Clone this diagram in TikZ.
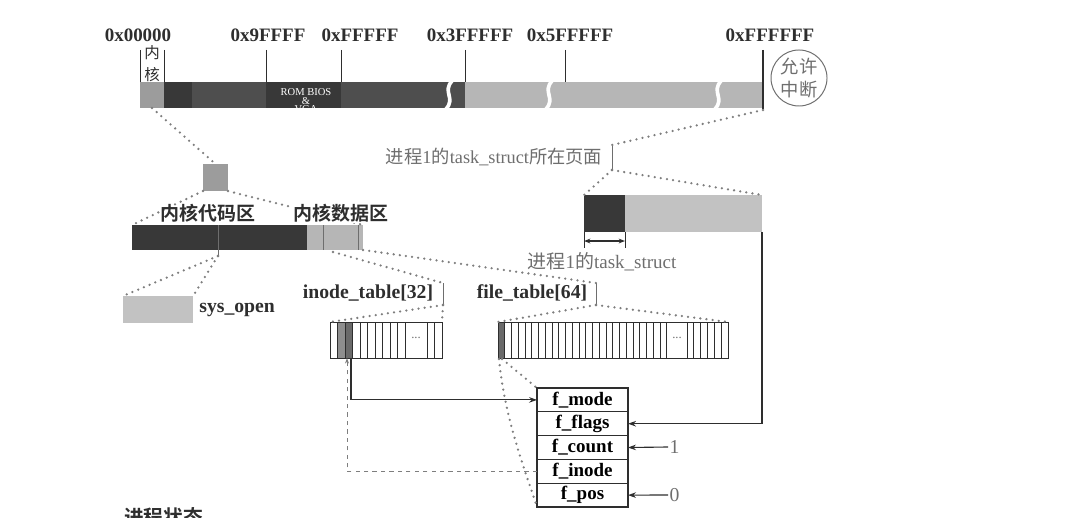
\documentclass[tikz,border=0pt]{standalone}
\usepackage{fontspec}
\setmainfont{Liberation Serif}
\newfontfamily\cjk{Noto Sans CJK SC}[BoldFont={Noto Sans CJK SC Bold}]
\usetikzlibrary{arrows.meta,positioning}
\definecolor{Ink}{HTML}{2E2E2E}
\definecolor{Soft}{HTML}{6E6E6E}
\definecolor{DotGray}{HTML}{7E7E7E}
\definecolor{BarDark}{HTML}{383838}
\definecolor{BarHatch}{HTML}{4E4E4E}
\definecolor{BarMid}{HTML}{9C9C9C}
\definecolor{BarLight}{HTML}{B6B6B6}
\definecolor{PaleFill}{HTML}{C2C2C2}
\definecolor{CellMid}{HTML}{8E8E8E}
\definecolor{CellDark}{HTML}{6A6A6A}
\tikzset{
  seg/.style={inner sep=0,outer sep=0,anchor=north west,minimum height=.65cm},
  tick/.style={draw=Ink,line width=.6pt},
  hexlbl/.style={font=\fontsize{13.5}{16}\selectfont\bfseries,text=Ink},
  boldlbl/.style={font=\fontsize{14}{16}\selectfont\bfseries,text=Ink},
  graylbl/.style={font=\fontsize{13}{15}\selectfont,text=Soft},
  dots/.style={draw=DotGray,line width=1.8pt,line cap=round,dash pattern=on 0pt off 4.4pt},
  cell/.style={draw=Ink,line width=.65pt},
  field/.style={draw=Ink,line width=.8pt,minimum width=2.275cm,minimum height=.595cm,inner sep=0,outer sep=0,font=\fontsize{13.5}{15}\selectfont\bfseries},
  link/.style={draw=Ink,line width=.8pt,-{Stealth[length=2mm,width=1.4mm]}},
  dashlink/.style={draw=DotGray,line width=.7pt,dashed,-{Stealth[length=1.4mm,width=1mm,open]}},
  gap/.style={draw=white,line width=2.6pt}
}
\begin{document}
\begin{tikzpicture}[x=.025cm,y=-.025cm]
  \useasboundingbox (0,0) rectangle (1078,518);
  \node[seg,fill=BarMid,minimum width=.6cm] (kern) at (140,82) {};
  \node[seg,fill=BarDark,minimum width=.7cm] (low) at (164,82) {};
  \node[seg,fill=BarHatch,minimum width=1.85cm] (conv) at (192,82) {};
  \node[seg,fill=BarDark,minimum width=1.875cm] (rom) at (266,82) {};
  \node[seg,fill=BarHatch,minimum width=3.1cm] (ext) at (341,82) {};
  \node[seg,fill=BarLight,minimum width=7.45cm] (high) at (465,82) {};
  \begin{scope}
    \clip (rom.north west) rectangle (rom.south east);
    \node[text=white,align=center,font=\fontsize{7.5}{6}\selectfont] (romtxt) at (306,101) {ROM BIOS\\\&\\VGA};
  \end{scope}
  \foreach \x in {449,549,718}
    \draw[gap] (\x+3,81) .. controls (\x-7,92) and (\x+7,98) .. (\x-3,109);
  \foreach \x in {140,164,266,341,465,565}
    \draw[tick] (\x,50) -- (\x,82);
  \draw[tick,line width=1pt] (763,50) -- (763,109);
  \node[hexlbl] (h0) at (138,35) {0x00000};
  \node[hexlbl] (h1) at (268,35) {0x9FFFF};
  \node[hexlbl] (h2) at (360,35) {0xFFFFF};
  \node[hexlbl] (h3) at (470,35) {0x3FFFFF};
  \node[hexlbl] (h4) at (570,35) {0x5FFFFF};
  \node[hexlbl] (h5) at (770,35) {0xFFFFFF};
  \node[align=center,text=Ink,inner sep=0,font=\fontsize{11}{15.5}\selectfont\cjk] (kernlbl) at (152,64) {内\\核};
  \node[circle,draw=Soft,line width=.7pt,minimum size=1.4cm,inner sep=0,align=center,text=Soft,font=\fontsize{13}{17}\selectfont\cjk] (irq) at (799,78) {允许\\中断};

  \node[seg,fill=BarMid,minimum width=.625cm,minimum height=.675cm] (sq) at (203,164) {};
  \node[seg,fill=BarDark,minimum width=4.375cm,minimum height=.625cm] (kcode) at (132,225) {};
  \node[seg,fill=BarLight,minimum width=1.4cm,minimum height=.625cm] (kdata) at (307,225) {};
  \foreach \x in {323,358}
    \draw[draw=Soft,line width=.6pt] (\x,225) -- (\x,250);
  \coordinate (ksys) at (218,256);
  \draw[draw=Soft,line width=.6pt] (218,225) -- (ksys);
  \draw[dots] (kern.south) -- (sq.north);
  \draw[dots] (sq.south west) -- (kcode.north west);
  \draw[dots] (sq.south east) -- (kdata.north east);
  \node[boldlbl,font=\fontsize{13.5}{16}\selectfont\bfseries\cjk] (codelbl) at (208,213) {内核代码区};
  \node[boldlbl,font=\fontsize{13.5}{16}\selectfont\bfseries\cjk,fill=white,inner sep=1pt] (datalbl) at (341,213) {内核数据区};

  \node[seg,fill=PaleFill,minimum width=1.75cm,minimum height=.675cm] (sys) at (123,296) {};
  \node[boldlbl,right=1pt of sys] (syslbl) {sys\_open};
  \draw[dots] (ksys) -- (sys.north west);
  \draw[dots] (ksys) -- (sys.north east);

  \node[boldlbl] (ilbl) at (368,293) {inode\_table[32]};
  \coordinate (it1) at (443,283);
  \coordinate (it2) at (443,305);
  \draw[draw=Soft,line width=.6pt] (it1) -- (it2);
  \node[boldlbl] (flbl) at (532,293) {file\_table[64]};
  \coordinate (ft1) at (596,283);
  \coordinate (ft2) at (596,305);
  \draw[draw=Soft,line width=.6pt] (ft1) -- (ft2);
  \coordinate (kd1) at (333,252);
  \draw[dots] (kd1) -- (it1);
  \draw[dots] (kdata.south east) -- (ft1);

  \node[seg,minimum width=2.8cm,minimum height=.9cm] (iarr) at (330,322) {};
  \fill[CellMid] (337.5,322) rectangle (345,358);
  \fill[CellDark] (345,322) rectangle (352.5,358);
  \foreach \i in {0,...,9}
    \draw[cell] (330+7.5*\i,322) rectangle ++(7.5,36);
  \draw[cell] (405,322) rectangle (427,358);
  \foreach \i in {0,1}
    \draw[cell] (427+7.5*\i,322) rectangle ++(7.5,36);
  \node[text=Soft,font=\small] (idots) at (416,338) {...};
  \draw[dots] (it2) -- (iarr.north west);
  \draw[dots] (it2) -- (iarr.north east);

  \node[seg,minimum width=5.75cm,minimum height=.9cm] (farr) at (498,322) {};
  \fill[CellDark] (498,322) rectangle (504.75,358);
  \foreach \i in {0,...,24}
    \draw[cell] (498+6.75*\i,322) rectangle ++(6.75,36);
  \draw[cell] (666.75,322) rectangle (687,358);
  \foreach \i in {0,...,5}
    \draw[cell] (687+6.833*\i,322) rectangle ++(6.833,36);
  \node[text=Soft,font=\small] (fdots) at (677,338) {...};
  \draw[dots] (ft2) -- (farr.north west);
  \draw[dots] (ft2) -- (farr.north east);

  \node[graylbl] (pagelbl) at (494,157) {{\cjk 进程}1{\cjk 的}task\_struct{\cjk 所在页面}};
  \coordinate (pt1) at (612,145);
  \coordinate (pt2) at (612,170);
  \draw[draw=Soft,line width=.6pt] (pt1) -- (pt2);
  \coordinate (barend) at (763,110);
  \draw[dots] (barend) -- (pt1);
  \node[seg,fill=PaleFill,minimum width=4.45cm,minimum height=.925cm] (page) at (584,195) {};
  \node[seg,fill=BarDark,minimum width=1.025cm,minimum height=.925cm] (task) at (584,195) {};
  \draw[dots] (pt2) -- (page.north west);
  \draw[dots] (pt2) -- (page.north east);
  \draw[draw=Ink,line width=.7pt] (task.south west) -- ++(0,16);
  \draw[draw=Ink,line width=.7pt] (task.south east) -- ++(0,16);
  \draw[draw=Ink,line width=.8pt,{Stealth[length=1.6mm,width=1.2mm]}-{Stealth[length=1.6mm,width=1.2mm]}] ([yshift=-.225cm]task.south west) -- ([yshift=-.225cm]task.south east);
  \node[graylbl,font=\fontsize{13.5}{15}\selectfont] (tasklbl) at (602,262) {{\cjk 进程}1{\cjk 的}task\_struct};

  \node[field,anchor=north west] (fmode) at (537,388) {f\_mode};
  \node[field,below=0pt of fmode] (fflags) {f\_flags};
  \node[field,below=0pt of fflags] (fcount) {f\_count};
  \node[field,below=0pt of fcount] (finode) {f\_inode};
  \node[field,below=0pt of finode] (fpos) {f\_pos};
  \node[text=Soft,font=\fontsize{14}{16}\selectfont,anchor=west,inner sep=1pt] (one) at (668,447) {1};
  \node[text=Soft,font=\fontsize{14}{16}\selectfont,anchor=west,inner sep=1pt] (zero) at (668,495) {0};
  \draw[link] (one.west) -- (fcount.east);
  \draw[link] (zero.west) -- (fpos.east);
  \draw[link] (page.south east) |- (fflags.east);
  \coordinate (ic3) at (351,358);
  \coordinate (ic2) at (347,358);
  \draw[link] (ic3) |- (fmode.west);
  \draw[dashlink] (finode.west) -| (ic2);
  \coordinate (fc1) at (502,359);
  \coordinate (fc0) at (499,359);
  \draw[dots] (fc1) -- (fmode.north west);
  \draw[dots] (fc0) .. controls (505,420) and (525,470) .. (fpos.south west);

  \node[anchor=north west,inner sep=0,text=Ink,font=\fontsize{14}{16}\selectfont\bfseries\cjk] (statelbl) at (124,507) {进程状态};
\end{tikzpicture}
\end{document}
